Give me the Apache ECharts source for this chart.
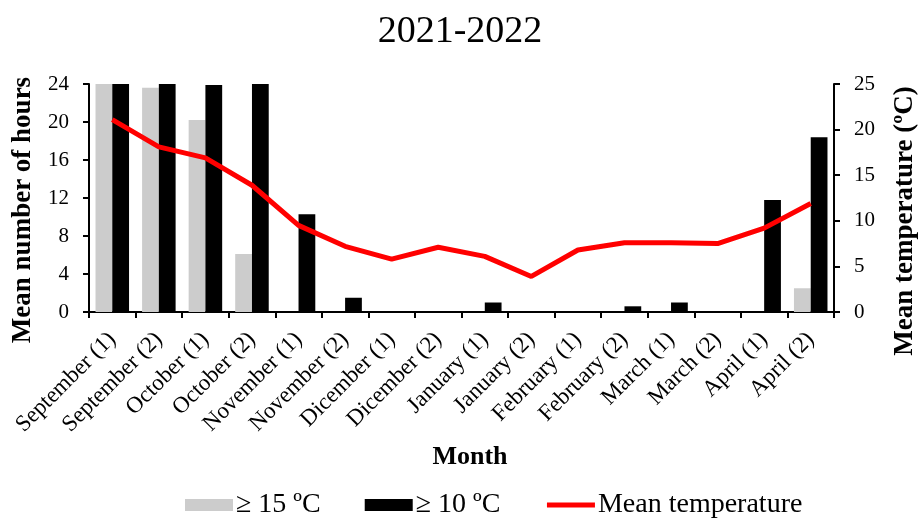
<!DOCTYPE html>
<html>
<head>
<meta charset="utf-8">
<style>
  html, body { margin: 0; padding: 0; background: #fff; }
  #chart { width: 920px; height: 520px; }
</style>
<script src="https://cdn.jsdelivr.net/npm/echarts@6/dist/echarts.min.js"></script>
</head>
<body>
<div id="chart"></div>
<script>
// Half-month periods, 2021-2022 season
const categories = [
  'September (1)', 'September (2)', 'October (1)', 'October (2)',
  'November (1)', 'November (2)', 'Dicember (1)', 'Dicember (2)',
  'January (1)', 'January (2)', 'February (1)', 'February (2)',
  'March (1)', 'March (2)', 'April (1)', 'April (2)'
];
// Mean number of hours per day at or above each threshold
const hoursAbove15 = [24, 23.6, 20.2, 6.1, 0, 0, 0, 0, 0, 0, 0, 0, 0, 0, 0, 2.5];
const hoursAbove10 = [24, 24, 23.9, 24, 10.3, 1.5, 0, 0, 1.0, 0, 0, 0.6, 1.0, 0, 11.8, 18.4];
// Mean temperature (ºC)
const meanTemp = [21.1, 18.1, 16.9, 13.9, 9.5, 7.2, 5.8, 7.1, 6.1, 3.9, 6.8, 7.6, 7.6, 7.5, 9.2, 11.9];

const hoursTicks = { min: 0, max: 24, interval: 4 };
const tempTicks = { min: 0, max: 25, interval: 5 };

const FONT = '"Liberation Serif", "Times New Roman", serif';

const chart = echarts.init(document.getElementById('chart'), null, { renderer: 'canvas' });

const axisNameStyle = {
  fontFamily: FONT, fontSize: 27, fontWeight: 'bold', fill: '#000',
  textAlign: 'center', textVerticalAlign: 'middle'
};

chart.setOption({
  backgroundColor: '#ffffff',
  textStyle: { fontFamily: FONT, color: '#000' },
  title: {
    text: '2021-2022',
    left: 'center',
    top: 8,
    textStyle: { fontFamily: FONT, fontSize: 38, fontWeight: 'normal', color: '#000' }
  },
  legend: {
    top: 486,
    left: 180,
    itemWidth: 48,
    itemHeight: 12,
    itemGap: 44,
    textStyle: { fontFamily: FONT, fontSize: 28, color: '#000', padding: [0, 0, 0, -2] },
    data: [
      { name: '≥ 15 ºC', icon: 'rect' },
      { name: '≥ 10 ºC', icon: 'rect' },
      { name: 'Mean temperature', itemStyle: { opacity: 0 }, lineStyle: { width: 5, color: '#ff0000' } }
    ]
  },
  grid: { left: 89, right: 86, top: 84, bottom: 208 },
  // axis titles placed as rotated text blocks
  graphic: [
    {
      type: 'text', x: 23, y: 210, rotation: Math.PI / 2,
      style: Object.assign({ text: 'Mean number of hours' }, axisNameStyle)
    },
    {
      type: 'text', x: 905, y: 221, rotation: Math.PI / 2,
      style: Object.assign({ text: 'Mean temperature (ºC)' }, axisNameStyle)
    },
    {
      type: 'text', x: 470, y: 457,
      style: Object.assign({ text: 'Month' }, axisNameStyle, { fontSize: 26 })
    }
  ],
  xAxis: {
    type: 'category',
    data: categories,
    axisLine: { lineStyle: { color: '#000', width: 2 } },
    axisTick: { show: true, length: 6, lineStyle: { color: '#000', width: 2 } },
    axisLabel: {
      rotate: 45, margin: 24, interval: 0,
      fontFamily: FONT, fontSize: 23, color: '#000'
    }
  },
  yAxis: [
    {
      type: 'value',
      min: hoursTicks.min, max: hoursTicks.max, interval: hoursTicks.interval,
      axisLine: { show: true, lineStyle: { color: '#000', width: 2 } },
      axisTick: { show: true, length: 6, lineStyle: { color: '#000', width: 2 } },
      axisLabel: { fontFamily: FONT, fontSize: 21, color: '#000', margin: 20 },
      splitLine: { show: false }
    },
    {
      type: 'value',
      position: 'right',
      min: tempTicks.min, max: tempTicks.max, interval: tempTicks.interval,
      axisLine: { show: true, lineStyle: { color: '#000', width: 2 } },
      axisTick: { show: true, length: 6, lineStyle: { color: '#000', width: 2 } },
      axisLabel: { fontFamily: FONT, fontSize: 21, color: '#000', margin: 20 },
      splitLine: { show: false }
    }
  ],
  series: [
    {
      name: '≥ 15 ºC',
      type: 'bar',
      data: hoursAbove15,
      yAxisIndex: 0,
      barGap: '0%',
      barCategoryGap: '28%',
      itemStyle: { color: '#cccccc' }
    },
    {
      name: '≥ 10 ºC',
      type: 'bar',
      data: hoursAbove10,
      yAxisIndex: 0,
      itemStyle: { color: '#000000' }
    },
    {
      name: 'Mean temperature',
      type: 'line',
      data: meanTemp,
      yAxisIndex: 1,
      symbol: 'none',
      lineStyle: { color: '#ff0000', width: 5 },
      itemStyle: { color: '#ff0000' },
      z: 5
    }
  ]
});
</script>
</body>
</html>
